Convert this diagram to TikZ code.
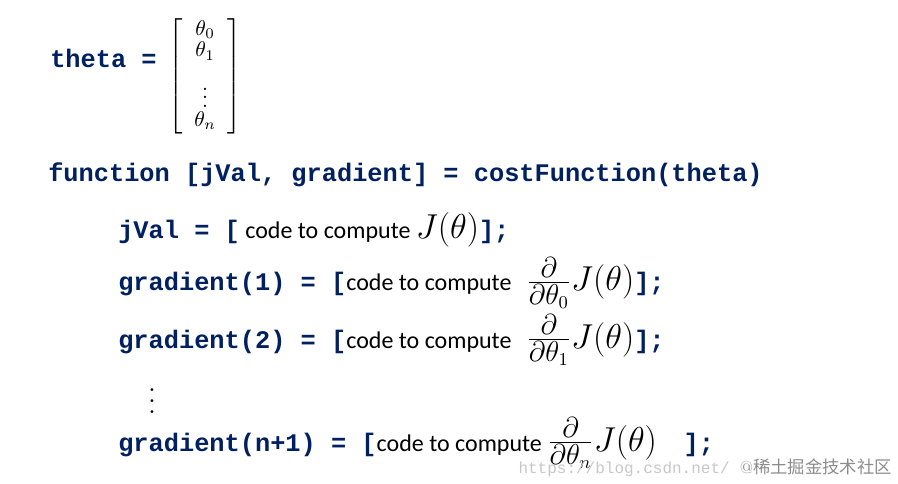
\documentclass[tikz,border=0pt]{standalone}
\usepackage{amsmath}
\usepackage{fontspec}
\setmonofont{Liberation Mono}
\setsansfont{Carlito}
\definecolor{codeblue}{RGB}{0,32,96}
\begin{document}
\begin{tikzpicture}[x=0.75pt,y=-0.75pt,
  code/.style={anchor=base west,inner sep=0pt,font=\fontsize{19}{22}\selectfont\ttfamily\bfseries,text=codeblue}]
\useasboundingbox (0,0) rectangle (898,484);
\newcommand{\ct}[1]{{\color{black}\fontsize{18}{22}\selectfont\sffamily\mdseries #1}}
\newcommand{\mt}[1]{{\color{black}\scalebox{1.5}{$#1$}}}
\node[code] (theta) at (50,68) {theta =};
\node[anchor=west,inner sep=0pt] (mat) at (168,76)
  {\scalebox{1.6}{$\left[\begin{array}{@{\;\;}c@{\;\;}}\theta_0\\[-2pt]\theta_1\\[5pt]\vdots\\[-3pt]\theta_n\end{array}\right]$}};
\node[code] (fn) at (48,182) {function [jVal, gradient] = costFunction(theta)};
\node[code] (l1) at (118,239) {jVal = [\ct{ code to compute }\mt{J(\theta)}];};
\node[code] (l2) at (118,291) {gradient(1) = [\ct{code to compute }\mt{\;\frac{\partial}{\partial\theta_0}J(\theta)}];};
\node[code] (l3) at (118,348) {gradient(2) = [\ct{code to compute }\mt{\;\frac{\partial}{\partial\theta_1}J(\theta)}];};
\node[anchor=center,inner sep=0pt] (dots) at (152,393) {\scalebox{2}{$\vdots$}};
\node[code] (l4) at (118,451) {gradient(n+1) = [\ct{code to compute }\mt{\frac{\partial}{\partial\theta_n}J(\theta)}\hspace{20pt}];};
\node[anchor=base east,inner sep=0pt,text=black!22,font=\fontsize{12}{12}\selectfont\ttfamily] (url) at (730,473) {https://blog.csdn.net/};
\node[anchor=base east,inner sep=0pt,text=black!45,font=\fontsize{13}{13}\selectfont] (wm) at (892,473) {@\fontspec{Noto Sans CJK SC}稀土掘金技术社区};
\end{tikzpicture}
\end{document}
